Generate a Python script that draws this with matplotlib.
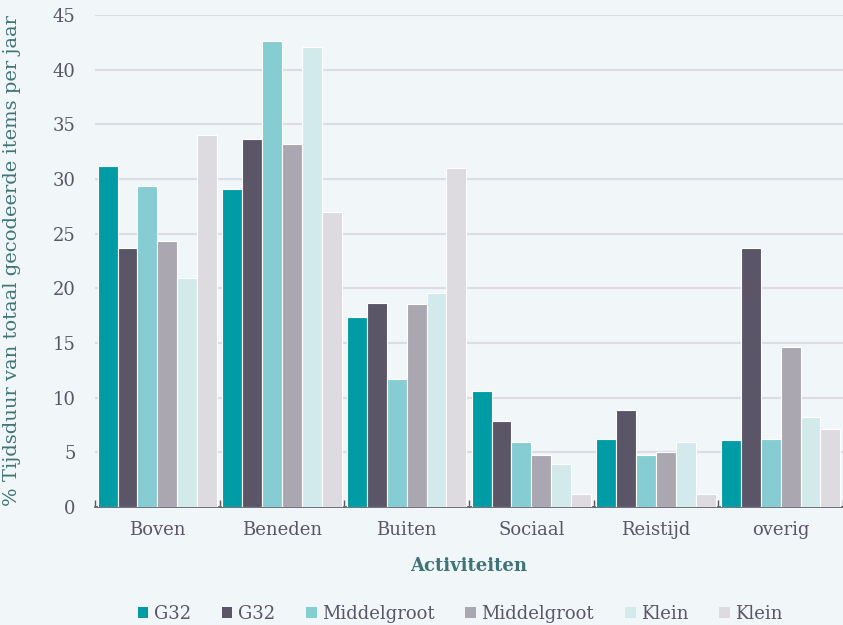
import numpy as np
import matplotlib.pyplot as plt
from matplotlib.patches import Patch

# Data
categories = ['Boven', 'Beneden', 'Buiten', 'Sociaal', 'Reistijd', 'overig']
series_names = ['G32', 'G32', 'Middelgroot', 'Middelgroot', 'Klein', 'Klein']
g32_a = [31.2, 29.1, 17.4, 10.6, 6.2, 6.1]
g32_b = [23.7, 33.7, 18.7, 7.9, 8.9, 23.7]
middel_a = [29.4, 42.6, 11.7, 5.9, 4.8, 6.2]
middel_b = [24.3, 33.2, 18.6, 4.8, 5.0, 14.6]
klein_a = [20.9, 42.1, 19.6, 3.9, 5.9, 8.2]
klein_b = [34.0, 27.0, 31.0, 1.2, 1.2, 7.1]
series = [g32_a, g32_b, middel_a, middel_b, klein_a, klein_b]
colors = ['#009ca6', '#5a5668', '#85cdd3', '#aaa7b1', '#d2eaeb', '#dddbe0']

bg = '#f1f6f9'
text_col = '#5a5668'
title_col = '#3f7478'
plt.rcParams['font.family'] = ['DejaVu Serif']

fig = plt.figure(figsize=(8.43, 6.25), dpi=100, facecolor=bg)
ax = fig.add_axes([95 / 843, 118 / 625, 748 / 843, 492 / 625])
ax.set_facecolor(bg)

x = np.arange(len(categories))
n = len(series)
group_w = 0.955
bw = group_w / n
for i, (vals, c) in enumerate(zip(series, colors)):
    pos = x - group_w / 2 + bw * (i + 0.5)
    ax.bar(pos, vals, width=bw, color=c, edgecolor='white', linewidth=0.8, zorder=3)

ax.set_xlim(-0.5, len(categories) - 0.5)
ax.set_ylim(0, 45)
ax.set_yticks(range(0, 46, 5))
ax.yaxis.grid(True, color='#dcdde3', linewidth=1.5, zorder=0)
ax.set_axisbelow(True)

ax.set_xticks(x)
ax.set_xticklabels(categories)
ax.set_xticks(np.arange(-0.5, len(categories), 1), minor=True)
ax.tick_params(axis='x', which='major', length=0, pad=10, labelsize=13, labelcolor=text_col)
ax.tick_params(axis='x', which='minor', length=5, direction='in', color=text_col, width=1)
ax.tick_params(axis='y', length=0, pad=14, labelsize=13, labelcolor=text_col)

for s in ['top', 'right', 'left']:
    ax.spines[s].set_visible(False)
ax.spines['bottom'].set_color(text_col)
ax.spines['bottom'].set_linewidth(1.2)

ax.set_xlabel('Activiteiten', fontsize=13, fontweight='semibold', color=title_col, labelpad=13)
ax.set_ylabel('% Tijdsduur van totaal gecodeerde items per jaar', fontsize=14,
              fontweight='normal', color=title_col)
ax.yaxis.set_label_coords(-74 / 748, 0.5)

handles = [Patch(facecolor=c, edgecolor='none') for c in colors]
leg = fig.legend(handles, series_names, loc='center', bbox_to_anchor=(0.546, 0.018),
                 ncol=6, frameon=False, fontsize=13, handlelength=0.6, handleheight=0.6,
                 handletextpad=0.3, columnspacing=1.7)
for t in leg.get_texts():
    t.set_color(text_col)

fig.savefig('out.png', dpi=100, facecolor=bg)
